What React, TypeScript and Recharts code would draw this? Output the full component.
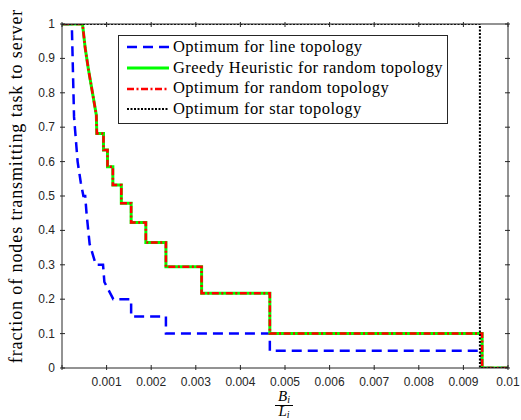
import React from "react";
import {
  LineChart,
  Line,
  XAxis,
  YAxis,
  Legend,
  Label,
} from "recharts";

// step curves: [B_i / L_i, fraction of nodes]
const lineTopology = [
  { x: 0, y: 1 },
  { x: 0.00022, y: 1 },
  { x: 0.00027, y: 0.73 },
  { x: 0.00035, y: 0.6 },
  { x: 0.00042, y: 0.54 },
  { x: 0.00048, y: 0.5 },
  { x: 0.00052, y: 0.5 },
  { x: 0.00055, y: 0.45 },
  { x: 0.00062, y: 0.36 },
  { x: 0.00076, y: 0.3 },
  { x: 0.00092, y: 0.3 },
  { x: 0.00095, y: 0.25 },
  { x: 0.00115, y: 0.2 },
  { x: 0.00155, y: 0.2 },
  { x: 0.00155, y: 0.15 },
  { x: 0.00233, y: 0.15 },
  { x: 0.00233, y: 0.1 },
  { x: 0.00466, y: 0.1 },
  { x: 0.00466, y: 0.05 },
  { x: 0.00941, y: 0.05 },
  { x: 0.00941, y: 0 },
  { x: 0.01, y: 0 },
];

const randomTopology = [
  { x: 0, y: 1 },
  { x: 0.00046, y: 1 },
  { x: 0.00052, y: 0.93 },
  { x: 0.00059, y: 0.87 },
  { x: 0.00067, y: 0.81 },
  { x: 0.00071, y: 0.78 },
  { x: 0.00077, y: 0.735 },
  { x: 0.00078, y: 0.682 },
  { x: 0.00093, y: 0.682 },
  { x: 0.00093, y: 0.634 },
  { x: 0.00102, y: 0.634 },
  { x: 0.00102, y: 0.585 },
  { x: 0.00114, y: 0.585 },
  { x: 0.00114, y: 0.532 },
  { x: 0.00133, y: 0.532 },
  { x: 0.00133, y: 0.479 },
  { x: 0.00155, y: 0.479 },
  { x: 0.00155, y: 0.423 },
  { x: 0.00188, y: 0.423 },
  { x: 0.00188, y: 0.365 },
  { x: 0.00233, y: 0.365 },
  { x: 0.00233, y: 0.294 },
  { x: 0.00313, y: 0.294 },
  { x: 0.00313, y: 0.217 },
  { x: 0.00466, y: 0.217 },
  { x: 0.00466, y: 0.1 },
  { x: 0.00942, y: 0.1 },
  { x: 0.00942, y: 0 },
  { x: 0.01, y: 0 },
];

const starTopology = [
  { x: 0, y: 1 },
  { x: 0.00937, y: 1 },
  { x: 0.00937, y: 0 },
  { x: 0.01, y: 0 },
];

const xTicks = [0, 0.001, 0.002, 0.003, 0.004, 0.005, 0.006, 0.007, 0.008, 0.009, 0.01];
const yTicks = [0, 0.1, 0.2, 0.3, 0.4, 0.5, 0.6, 0.7, 0.8, 0.9, 1];

const series = [
  { name: "Optimum for line topology", color: "#0000ff", width: 2.5, dash: "10 6" },
  { name: "Greedy Heuristic for random topology", color: "#00ff00", width: 3, dash: "" },
  { name: "Optimum for random topology", color: "#ff0000", width: 2.5, dash: "7 2.5 2 2.5" },
  { name: "Optimum for star topology", color: "#000000", width: 2, dash: "2 1.5" },
];

const AXIS = "#262626";
const TICK_FONT = "'Liberation Sans', Arial, Helvetica, sans-serif";
const SERIF = "'Liberation Serif', 'Times New Roman', serif";

const fmt = (v: number) => String(+v.toFixed(3));

function BottomTick({ x, y, payload }: any) {
  return (
    <g>
      <line x1={x} y1={y} x2={x} y2={y - 5} stroke={AXIS} />
      {payload.value !== 0 && (
        <text x={x} y={y + 16} textAnchor="middle" fill={AXIS} fontSize={12} fontFamily={TICK_FONT}>
          {fmt(payload.value)}
        </text>
      )}
    </g>
  );
}

function TopTick({ x, y }: any) {
  return <line x1={x} y1={y} x2={x} y2={y + 5} stroke={AXIS} />;
}

function LeftTick({ x, y, payload }: any) {
  return (
    <g>
      <line x1={x} y1={y} x2={x + 5} y2={y} stroke={AXIS} />
      <text x={x - 5} y={y + 4} textAnchor="end" fill={AXIS} fontSize={12} fontFamily={TICK_FONT}>
        {fmt(payload.value)}
      </text>
    </g>
  );
}

function RightTick({ x, y }: any) {
  return <line x1={x} y1={y} x2={x - 5} y2={y} stroke={AXIS} />;
}

function LegendBox() {
  return (
    <div
      style={{
        border: `1px solid ${AXIS}`,
        background: "#fff",
        padding: "1px 4px 3px 7px",
        fontFamily: SERIF,
        fontSize: 16.5,
        letterSpacing: 0.45,
        color: "#000",
        lineHeight: "20.7px",
        textAlign: "left",
      }}
    >
      {series.map((s) => (
        <div key={s.name} style={{ display: "flex", alignItems: "center", whiteSpace: "nowrap" }}>
          <svg width={46} height={10} style={{ marginRight: 1 }}>
            <line
              x1={1}
              y1={5}
              x2={43}
              y2={5}
              stroke={s.color}
              strokeWidth={s.width}
              strokeDasharray={s.dash || undefined}
            />
          </svg>
          {s.name}
        </div>
      ))}
    </div>
  );
}

function XLabel({ viewBox }: any) {
  const cx = viewBox.x + viewBox.width / 2 - 1;
  const top = viewBox.y;
  return (
    <g fontFamily={SERIF} fontStyle="italic" fontSize={15} fill="#000">
      <text x={cx} y={top + 33} textAnchor="middle">
        B<tspan fontSize={10} dy={2}>i</tspan>
      </text>
      <line x1={cx - 9} y1={top + 37.5} x2={cx + 9} y2={top + 37.5} stroke="#000" strokeWidth={1} />
      <text x={cx} y={top + 48} textAnchor="middle">
        L<tspan fontSize={10} dy={2}>i</tspan>
      </text>
    </g>
  );
}

function YLabel() {
  return (
    <text
      x={22}
      y={186}
      transform="rotate(-90 22 186)"
      textAnchor="middle"
      fontFamily={SERIF}
      fontSize={18}
      letterSpacing={0.9}
      fill="#000"
    >
      fraction of nodes transmitting task to server
    </text>
  );
}

export default function App() {
  return (
    <div style={{ position: "absolute", left: 0, top: 0, background: "#fff" }}>
      <LineChart width={521} height={420} margin={{ top: 0, right: 0, bottom: 0, left: 0 }}>
        <XAxis
          xAxisId="b"
          dataKey="x"
          type="number"
          domain={[0, 0.01]}
          ticks={xTicks}
          allowDataOverflow
          height={52}
          tickSize={0}
          tickLine={false}
          axisLine={{ stroke: AXIS }}
          tick={<BottomTick />}
          interval={0}
        >
          <Label content={<XLabel />} />
        </XAxis>
        <XAxis
          xAxisId="t"
          orientation="top"
          dataKey="x"
          type="number"
          domain={[0, 0.01]}
          ticks={xTicks}
          allowDataOverflow
          height={24}
          tickSize={0}
          tickLine={false}
          axisLine={{ stroke: AXIS }}
          tick={<TopTick />}
          interval={0}
        />
        <YAxis
          yAxisId="l"
          type="number"
          domain={[0, 1]}
          ticks={yTicks}
          allowDataOverflow
          width={62}
          tickSize={0}
          tickLine={false}
          axisLine={{ stroke: AXIS }}
          tick={<LeftTick />}
          interval={0}
        >
          <Label content={<YLabel />} />
        </YAxis>
        <YAxis
          yAxisId="r"
          orientation="right"
          type="number"
          domain={[0, 1]}
          ticks={yTicks}
          allowDataOverflow
          width={13}
          tickSize={0}
          tickLine={false}
          axisLine={{ stroke: AXIS }}
          tick={<RightTick />}
          interval={0}
        />
        <Legend
          layout="vertical"
          align="center"
          verticalAlign="middle"
          content={<LegendBox />}
          wrapperStyle={{ position: "absolute", left: 118, top: 35, width: "auto", height: "auto" }}
        />
        {[lineTopology, randomTopology, randomTopology, starTopology].map((d, i) => (
          <Line
            key={series[i].name}
            xAxisId="b"
            yAxisId="l"
            data={d}
            dataKey="y"
            name={series[i].name}
            type="linear"
            stroke={series[i].color}
            strokeWidth={series[i].width}
            strokeDasharray={series[i].dash || undefined}
            dot={false}
            activeDot={false}
            isAnimationActive={false}
          />
        ))}
      </LineChart>
    </div>
  );
}
